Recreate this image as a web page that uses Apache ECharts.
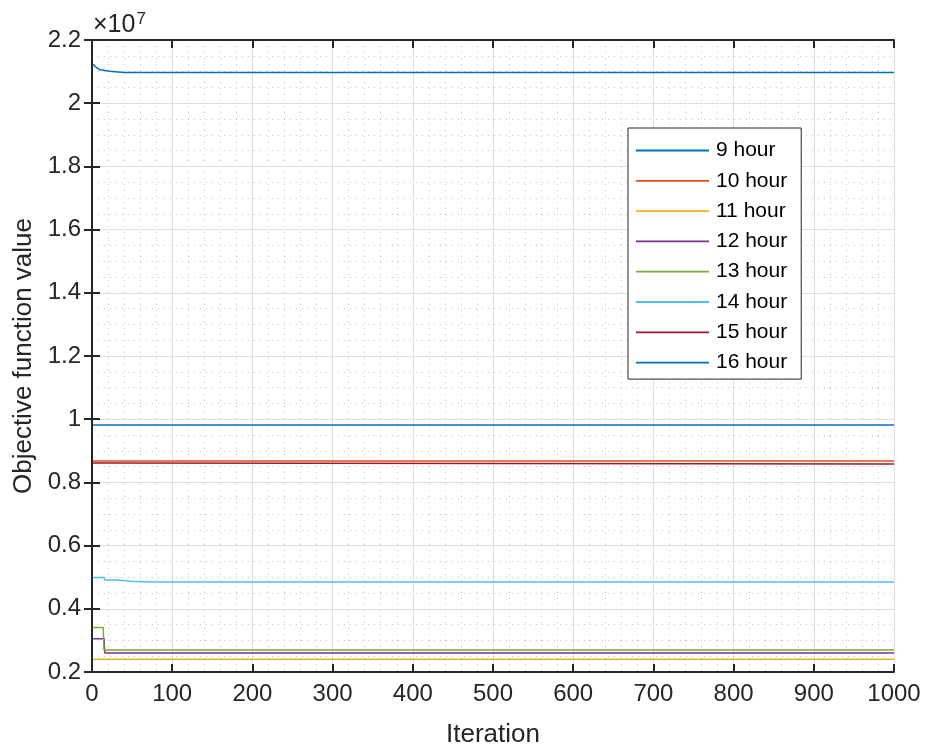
<!DOCTYPE html>
<html>
<head>
<meta charset="utf-8">
<script src="https://cdn.jsdelivr.net/npm/echarts@6/dist/echarts.min.js"></script>
<style>
  html, body { margin: 0; padding: 0; background: #fff; }
  #chart { width: 926px; height: 753px; }
</style>
</head>
<body>
<div id="chart"></div>
<script>
// values are in units of 1e7 at the iterations where they change
var hours = ['9 hour', '10 hour', '11 hour', '12 hour', '13 hour', '14 hour', '15 hour', '16 hour'];
var colors = ['#0072BD', '#D95319', '#EDB120', '#7E2F8E', '#77AC30', '#4DBEEE', '#A2142F', '#0072BD'];

var h9 = [[1, 2.124], [4, 2.116], [9, 2.107], [22, 2.101], [40, 2.097], [1000, 2.097]];
var h10 = [[1, 0.868], [1000, 0.868]];
var h11 = [[1, 0.240], [1000, 0.240]];
var h12 = [[1, 0.305], [15, 0.305], [16, 0.260], [1000, 0.260]];
var h13 = [[1, 0.341], [14, 0.341], [15, 0.270], [1000, 0.270]];
var h14 = [[1, 0.499], [15, 0.499], [16, 0.491], [29, 0.491], [30, 0.488], [55, 0.486], [70, 0.485], [1000, 0.485]];
var h15 = [[1, 0.861], [25, 0.861], [26, 0.858], [1000, 0.858]];
var h16 = [[1, 0.982], [1000, 0.982]];
var seriesData = [h9, h10, h11, h12, h13, h14, h15, h16];

var xTicks = [0, 1000, 100];
var yTicks = [0.2, 2.2, 0.2];

var chart = echarts.init(document.getElementById('chart'));

var axisColor = '#262626';
var fontFamily = '"Liberation Sans", Arial, sans-serif';

var series = seriesData.map(function (d, i) {
    return {
        name: hours[i],
        type: 'line',
        data: d,
        showSymbol: false,
        symbol: 'none',
        animation: false,
        lineStyle: { width: 1.5, color: colors[i] },
        itemStyle: { color: colors[i] }
    };
});

var gridLine = { show: true, lineStyle: { color: '#dedede', width: 1 } };
var minorLine = { show: true, lineStyle: { color: '#c4c4c4', width: 1, type: [1, 5] } };

var option = {
    backgroundColor: '#fff',
    textStyle: { fontFamily: fontFamily },
    grid: { left: 92, right: 32, top: 40, bottom: 80 },
    legend: {
        orient: 'vertical',
        left: 628,
        top: 128,
        width: 172,
        padding: [12, 14, 6, 8],
        itemWidth: 73,
        itemHeight: 14,
        itemGap: 9.3,
        backgroundColor: '#fff',
        borderColor: axisColor,
        borderWidth: 1,
        textStyle: { fontSize: 21, color: '#000', fontFamily: fontFamily, padding: [0, 0, 0, 2] },
        data: hours.map(function (h, i) {
            return { name: h, icon: 'path://M0,0 L100,0 L100,2.5 L0,2.5 Z', itemStyle: { color: colors[i] } };
        })
    },
    graphic: [{
        type: 'text',
        left: 93,
        top: 11,
        style: {
            text: '{a|\u00d710}{b|7}',
            rich: {
                a: { fontSize: 25, fill: axisColor, fontFamily: fontFamily },
                b: { fontSize: 17, fill: axisColor, fontFamily: fontFamily, verticalAlign: 'top', padding: [0, 0, 12, 1] }
            }
        }
    }],
    xAxis: [{
        type: 'value',
        min: xTicks[0], max: xTicks[1], interval: xTicks[2],
        name: 'Iteration',
        nameLocation: 'middle',
        nameGap: 50,
        nameTextStyle: { fontSize: 26, color: axisColor },
        axisLine: { show: true, lineStyle: { color: axisColor, width: 2 } },
        axisTick: { show: true, inside: true, length: 8, lineStyle: { color: axisColor, width: 2 } },
        axisLabel: {
            fontSize: 24, color: axisColor, margin: 10,
            formatter: function (v) { return String(v); }
        },
        splitLine: gridLine,
        minorTick: { show: false, splitNumber: 5 },
        minorSplitLine: minorLine
    }, {
        type: 'value', position: 'top',
        min: xTicks[0], max: xTicks[1], interval: xTicks[2],
        axisLine: { show: true, lineStyle: { color: axisColor, width: 2 } },
        axisTick: { show: true, inside: true, length: 8, lineStyle: { color: axisColor, width: 2 } },
        axisLabel: { show: false },
        splitLine: { show: false }
    }],
    yAxis: [{
        type: 'value',
        min: yTicks[0], max: yTicks[1], interval: yTicks[2],
        name: 'Objective function value',
        nameLocation: 'middle',
        nameGap: 55,
        nameTextStyle: { fontSize: 26, color: axisColor },
        axisLine: { show: true, lineStyle: { color: axisColor, width: 2 } },
        axisTick: { show: true, inside: true, length: 8, lineStyle: { color: axisColor, width: 2 } },
        axisLabel: {
            fontSize: 24, color: axisColor, margin: 11,
            formatter: function (v) { return String(+v.toFixed(1)); }
        },
        splitLine: gridLine,
        minorTick: { show: false, splitNumber: 4 },
        minorSplitLine: minorLine
    }, {
        type: 'value', position: 'right',
        min: yTicks[0], max: yTicks[1], interval: yTicks[2],
        axisLine: { show: true, lineStyle: { color: axisColor, width: 2 } },
        axisTick: { show: true, inside: true, length: 8, lineStyle: { color: axisColor, width: 2 } },
        axisLabel: { show: false },
        splitLine: { show: false }
    }],
    series: series
};

chart.setOption(option);
</script>
</body>
</html>
